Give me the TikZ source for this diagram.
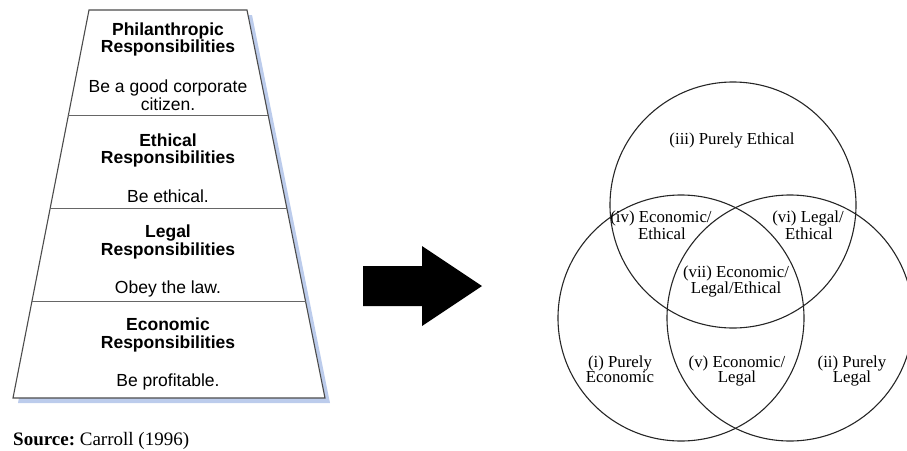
\documentclass[tikz,border=0pt]{standalone}
\usepackage{fontspec}
\setmainfont{Liberation Serif}
\newfontfamily\arialf{Liberation Sans}
\definecolor{shadowblue}{RGB}{188,204,236}
\begin{document}
\begin{tikzpicture}[x=1pt,y=-1pt,
  ttl/.style={anchor=base,inner sep=0pt,font=\arialf\bfseries\fontsize{17.5}{18}\selectfont},
  sub/.style={anchor=base,inner sep=0pt,font=\arialf\fontsize{17.5}{18}\selectfont},
  vlab/.style={anchor=base,inner sep=0pt,font=\fontsize{16.8}{16}\selectfont},
  ring/.style={draw=black!85,line width=1.1pt},
  divider/.style={draw=black!60,line width=1pt}]
\useasboundingbox (0,0) rectangle (907,450);
% shadow
\fill[shadowblue] (94,15) -- (252,15) -- (330,403) -- (18,403) -- cycle;
% trapezoid
\draw[fill=white,draw=black!70,line width=1.1pt] (89,10) -- (247,10) -- (325,398) -- (13,398) -- cycle;
\draw[divider] (68.4,115) -- (268.2,115);
\draw[divider] (49.9,208) -- (286.8,208);
\draw[divider] (31.6,301) -- (305.5,301);
% texts
\node[ttl] (p1) at (168,35) {Philanthropic};
\node[ttl] (p2) at (168,52) {Responsibilities};
\node[sub] (p3) at (168,92) {Be a good corporate};
\node[sub] (p4) at (168,110) {citizen.};
\node[ttl] (e1) at (168,146) {Ethical};
\node[ttl] (e2) at (168,163) {Responsibilities};
\node[sub] (e3) at (168,202) {Be ethical.};
\node[ttl] (l1) at (168,237) {Legal};
\node[ttl] (l2) at (168,255) {Responsibilities};
\node[sub] (l3) at (168,293) {Obey the law.};
\node[ttl] (c1) at (168,330) {Economic};
\node[ttl] (c2) at (168,348) {Responsibilities};
\node[sub] (c3) at (168,386) {Be profitable.};
\node[anchor=base west,inner sep=0pt,font=\fontsize{19}{20}\selectfont] (src) at (13,445) {\textbf{Source:}~Carroll (1996)};
% arrow
\fill[black] (363,266) -- (422,266) -- (422,246) -- (482,286) -- (422,326) -- (422,306) -- (363,306) -- cycle;
% venn
\draw[ring] (733,205) circle[radius=123pt];
\draw[ring] (681,318) circle[radius=123pt];
\draw[ring] (790,318) circle[radius=123pt];
\node[vlab] (v3) at (732,144) {(iii) Purely Ethical};
\node[vlab] (v4a) at (661,222) {(iv) Economic/};
\node[vlab] (v4b) at (662,239) {Ethical};
\node[vlab] (v6a) at (808,222) {(vi) Legal/};
\node[vlab] (v6b) at (809,239) {Ethical};
\node[vlab] (v7a) at (736,277) {(vii) Economic/};
\node[vlab] (v7b) at (736,293) {Legal/Ethical};
\node[vlab] (v1a) at (620,367) {(i) Purely};
\node[vlab] (v1b) at (620,382) {Economic};
\node[vlab] (v5a) at (737,367) {(v) Economic/};
\node[vlab] (v5b) at (737,382) {Legal};
\node[vlab] (v2a) at (852,367) {(ii) Purely};
\node[vlab] (v2b) at (852,382) {Legal};
\end{tikzpicture}
\end{document}
